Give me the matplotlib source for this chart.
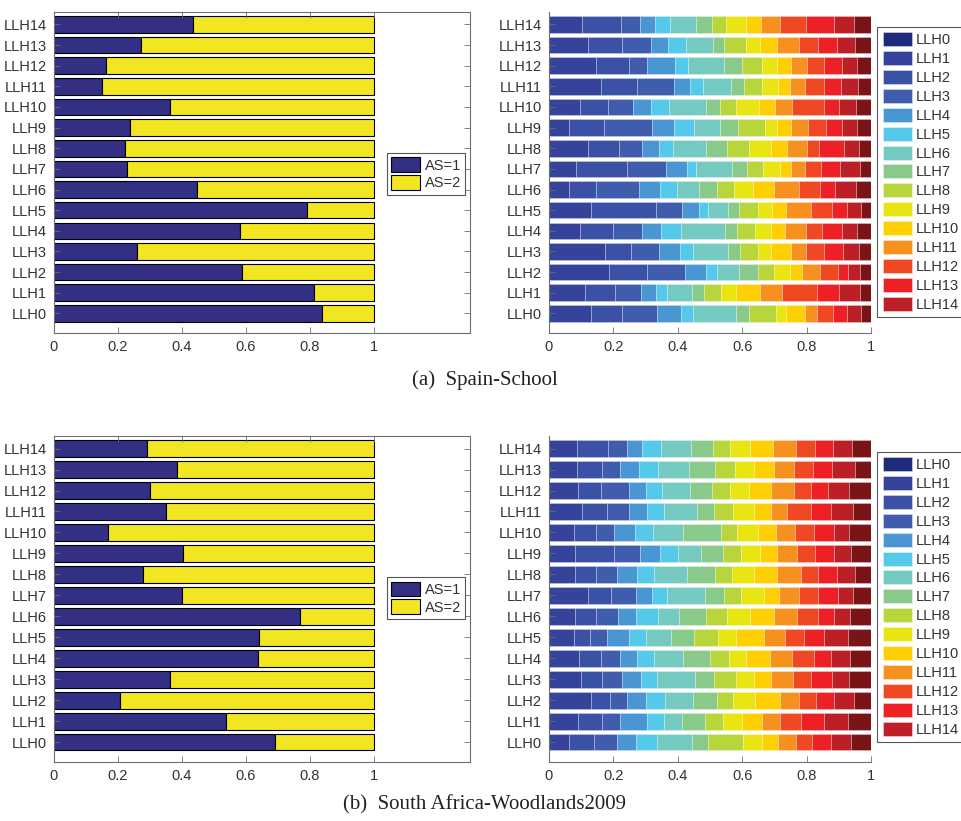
import numpy as np
import matplotlib
matplotlib.use("Agg")
import matplotlib.pyplot as plt
from matplotlib.patches import Patch

plt.rcParams['font.family'] = ['Liberation Sans', 'DejaVu Sans']

# categories
labels = ['LLH%d' % i for i in range(15)]

# share of AS=1 per LLH (AS=2 is the rest up to 1)
spain_as1 = [0.839, 0.811, 0.589, 0.260, 0.580, 0.791, 0.448, 0.227, 0.221,
             0.236, 0.361, 0.150, 0.164, 0.272, 0.435]
sa_as1 = [0.691, 0.539, 0.205, 0.362, 0.637, 0.642, 0.769, 0.400, 0.279,
          0.403, 0.169, 0.351, 0.299, 0.384, 0.292]

# cumulative shares of the 15 components per row (LLH0..LLH14), last (1.0) left out
spain_cum = [
    [0.130, 0.226, 0.335, 0.410, 0.447, 0.582, 0.621, 0.705, 0.736, 0.795, 0.832, 0.882, 0.926, 0.969],
    [0.112, 0.205, 0.286, 0.332, 0.367, 0.444, 0.482, 0.534, 0.580, 0.655, 0.723, 0.832, 0.901, 0.965],
    [0.186, 0.304, 0.422, 0.488, 0.522, 0.591, 0.649, 0.699, 0.748, 0.785, 0.842, 0.898, 0.929, 0.966],
    [0.174, 0.254, 0.343, 0.407, 0.446, 0.557, 0.594, 0.649, 0.688, 0.753, 0.799, 0.854, 0.913, 0.962],
    [0.096, 0.199, 0.290, 0.348, 0.409, 0.547, 0.584, 0.640, 0.689, 0.733, 0.798, 0.849, 0.910, 0.957],
    [0.130, 0.332, 0.413, 0.466, 0.495, 0.557, 0.591, 0.648, 0.693, 0.737, 0.813, 0.879, 0.927, 0.968],
    [0.063, 0.147, 0.280, 0.345, 0.398, 0.466, 0.522, 0.576, 0.634, 0.698, 0.777, 0.842, 0.888, 0.952],
    [0.084, 0.242, 0.363, 0.428, 0.457, 0.567, 0.615, 0.665, 0.718, 0.752, 0.795, 0.846, 0.905, 0.965],
    [0.122, 0.217, 0.288, 0.342, 0.386, 0.489, 0.552, 0.620, 0.689, 0.739, 0.800, 0.839, 0.916, 0.963],
    [0.063, 0.172, 0.319, 0.387, 0.449, 0.532, 0.587, 0.670, 0.708, 0.751, 0.803, 0.859, 0.910, 0.958],
    [0.096, 0.184, 0.260, 0.317, 0.373, 0.488, 0.530, 0.580, 0.651, 0.703, 0.756, 0.854, 0.900, 0.954],
    [0.162, 0.273, 0.387, 0.437, 0.478, 0.564, 0.606, 0.661, 0.711, 0.748, 0.796, 0.854, 0.906, 0.960],
    [0.146, 0.248, 0.304, 0.391, 0.433, 0.544, 0.599, 0.661, 0.708, 0.752, 0.801, 0.854, 0.910, 0.957],
    [0.120, 0.227, 0.317, 0.369, 0.426, 0.509, 0.545, 0.612, 0.656, 0.709, 0.776, 0.835, 0.895, 0.950],
    [0.104, 0.224, 0.283, 0.329, 0.376, 0.457, 0.507, 0.550, 0.612, 0.658, 0.718, 0.798, 0.884, 0.948],
]
sa_cum = [
    [0.062, 0.139, 0.211, 0.270, 0.334, 0.443, 0.493, 0.603, 0.662, 0.711, 0.766, 0.816, 0.875, 0.938],
    [0.090, 0.165, 0.221, 0.304, 0.357, 0.413, 0.485, 0.540, 0.598, 0.662, 0.717, 0.783, 0.854, 0.928],
    [0.129, 0.189, 0.242, 0.301, 0.360, 0.446, 0.521, 0.571, 0.639, 0.716, 0.775, 0.829, 0.885, 0.948],
    [0.099, 0.165, 0.228, 0.286, 0.334, 0.453, 0.512, 0.580, 0.637, 0.689, 0.757, 0.814, 0.878, 0.931],
    [0.092, 0.162, 0.221, 0.273, 0.325, 0.415, 0.500, 0.559, 0.612, 0.685, 0.755, 0.823, 0.876, 0.935],
    [0.078, 0.128, 0.180, 0.247, 0.301, 0.378, 0.449, 0.525, 0.580, 0.668, 0.732, 0.791, 0.854, 0.930],
    [0.081, 0.146, 0.214, 0.270, 0.339, 0.404, 0.488, 0.553, 0.625, 0.700, 0.769, 0.834, 0.884, 0.934],
    [0.120, 0.193, 0.270, 0.319, 0.365, 0.485, 0.544, 0.596, 0.668, 0.714, 0.776, 0.835, 0.898, 0.945],
    [0.081, 0.146, 0.211, 0.273, 0.325, 0.428, 0.516, 0.568, 0.638, 0.707, 0.782, 0.834, 0.894, 0.950],
    [0.081, 0.202, 0.283, 0.345, 0.400, 0.471, 0.540, 0.595, 0.654, 0.708, 0.770, 0.825, 0.884, 0.938],
    [0.078, 0.146, 0.202, 0.267, 0.323, 0.415, 0.533, 0.584, 0.648, 0.704, 0.764, 0.824, 0.885, 0.932],
    [0.103, 0.180, 0.247, 0.304, 0.358, 0.459, 0.512, 0.570, 0.637, 0.689, 0.738, 0.814, 0.877, 0.943],
    [0.090, 0.162, 0.248, 0.301, 0.351, 0.438, 0.505, 0.562, 0.621, 0.689, 0.761, 0.814, 0.867, 0.931],
    [0.087, 0.165, 0.220, 0.280, 0.339, 0.435, 0.516, 0.578, 0.637, 0.698, 0.761, 0.820, 0.879, 0.949],
    [0.088, 0.183, 0.242, 0.289, 0.347, 0.442, 0.509, 0.562, 0.624, 0.696, 0.767, 0.826, 0.882, 0.941],
]

captions = ['(a)  Spain-School', '(b)  South Africa-Woodlands2009']

AS1_COLOR = '#332f85'
AS2_COLOR = '#f2e622'
bar_colors = ['#35449a', '#3a51a5', '#3f5dac', '#4a96d2', '#55c9e9', '#74c9c1',
              '#89ca8b', '#b8d53c', '#e8e513', '#fecf03', '#f6901f', '#ef4823',
              '#ec2025', '#bd1f27', '#7a1416']
legend_colors = ['#202a7a'] + bar_colors[:14]

TXT = '#333333'
SPINE = '#6e6e6e'
FS = 10.5

fig = plt.figure(figsize=(9.62, 8.21), dpi=100)
W, H = 962.0, 821.0


def px_axes(x0, y0, x1, y1):
    return fig.add_axes([x0 / W, 1 - y1 / H, (x1 - x0) / W, (y1 - y0) / H])


y = np.arange(15)


def left_panel(ax, as1, leg_top):
    as1 = np.array(as1)
    ax.barh(y, as1, height=0.8, color=AS1_COLOR, edgecolor='black', linewidth=0.8, label='AS=1')
    ax.barh(y, 1 - as1, left=as1, height=0.8, color=AS2_COLOR, edgecolor='black', linewidth=0.8, label='AS=2')
    ax.set_xlim(0, 1.3)
    ax.set_ylim(-0.95, 14.6)
    ax.set_xticks([0, 0.2, 0.4, 0.6, 0.8, 1])
    ax.set_xticklabels(['0', '0.2', '0.4', '0.6', '0.8', '1'])
    ax.set_yticks(y)
    ax.set_yticklabels(labels)
    ax.tick_params(direction='in', top=True, right=True, length=4, width=0.6,
                   color=SPINE, labelsize=FS, labelcolor=TXT, pad=5)
    for s in ax.spines.values():
        s.set_color(SPINE)
        s.set_linewidth(0.8)
    leg = ax.legend(loc='upper left', bbox_to_anchor=(0.80, leg_top), fontsize=FS,
                    fancybox=False, framealpha=1, edgecolor='#555555',
                    handlelength=2.0, handleheight=1.2, handletextpad=0.3,
                    labelspacing=0.15, borderpad=0.3, borderaxespad=0)
    leg.get_frame().set_linewidth(0.8)
    for t in leg.get_texts():
        t.set_color(TXT)


def right_panel(ax, cum, leg_top):
    cum = np.array(cum)
    n = cum.shape[0]
    edges = np.hstack([np.zeros((n, 1)), cum, np.ones((n, 1))])
    widths = np.diff(edges, axis=1)
    for j in range(15):
        ax.barh(y, widths[:, j], left=edges[:, j], height=0.8, color=bar_colors[j],
                edgecolor=(1, 1, 1, 0.35), linewidth=0.5)
    ax.set_xlim(0, 1)
    ax.set_ylim(-0.95, 14.6)
    ax.set_xticks([0, 0.2, 0.4, 0.6, 0.8, 1])
    ax.set_xticklabels(['0', '0.2', '0.4', '0.6', '0.8', '1'])
    ax.set_yticks(y)
    ax.set_yticklabels(labels)
    ax.tick_params(direction='in', length=4, width=0.6, color=SPINE,
                   labelsize=FS, labelcolor=TXT, pad=5)
    ax.spines['top'].set_visible(False)
    ax.spines['right'].set_visible(False)
    for s in ('left', 'bottom'):
        ax.spines[s].set_color(SPINE)
        ax.spines[s].set_linewidth(0.8)
    handles = [Patch(facecolor=c, edgecolor=(1, 1, 1, 0.5), linewidth=0.5) for c in legend_colors]
    leg = ax.legend(handles, labels, loc='upper left', bbox_to_anchor=(1.02, leg_top),
                    fontsize=FS, fancybox=False, framealpha=1, edgecolor='#555555',
                    handlelength=2.0, handleheight=1.1, handletextpad=0.25,
                    labelspacing=0.27, borderpad=0.35, borderaxespad=0)
    leg.get_frame().set_linewidth(0.8)
    for t in leg.get_texts():
        t.set_color(TXT)


ax1 = px_axes(54, 12, 470, 333)
ax2 = px_axes(549, 12, 871, 333)
ax3 = px_axes(54, 436, 470, 762)
ax4 = px_axes(549, 436, 871, 762)

left_panel(ax1, spain_as1, 0.561)
right_panel(ax2, spain_cum, 0.953)
left_panel(ax3, sa_as1, 0.567)
right_panel(ax4, sa_cum, 0.951)

fig.text(485 / W, 1 - 380 / H, captions[0], ha='center', va='center',
         family=['Liberation Serif', 'DejaVu Serif'], fontsize=15, color='#222222')
fig.text(485 / W, 1 - 805 / H, captions[1], ha='center', va='center',
         family=['Liberation Serif', 'DejaVu Serif'], fontsize=15, color='#222222')

fig.savefig('out.png', dpi=100)
